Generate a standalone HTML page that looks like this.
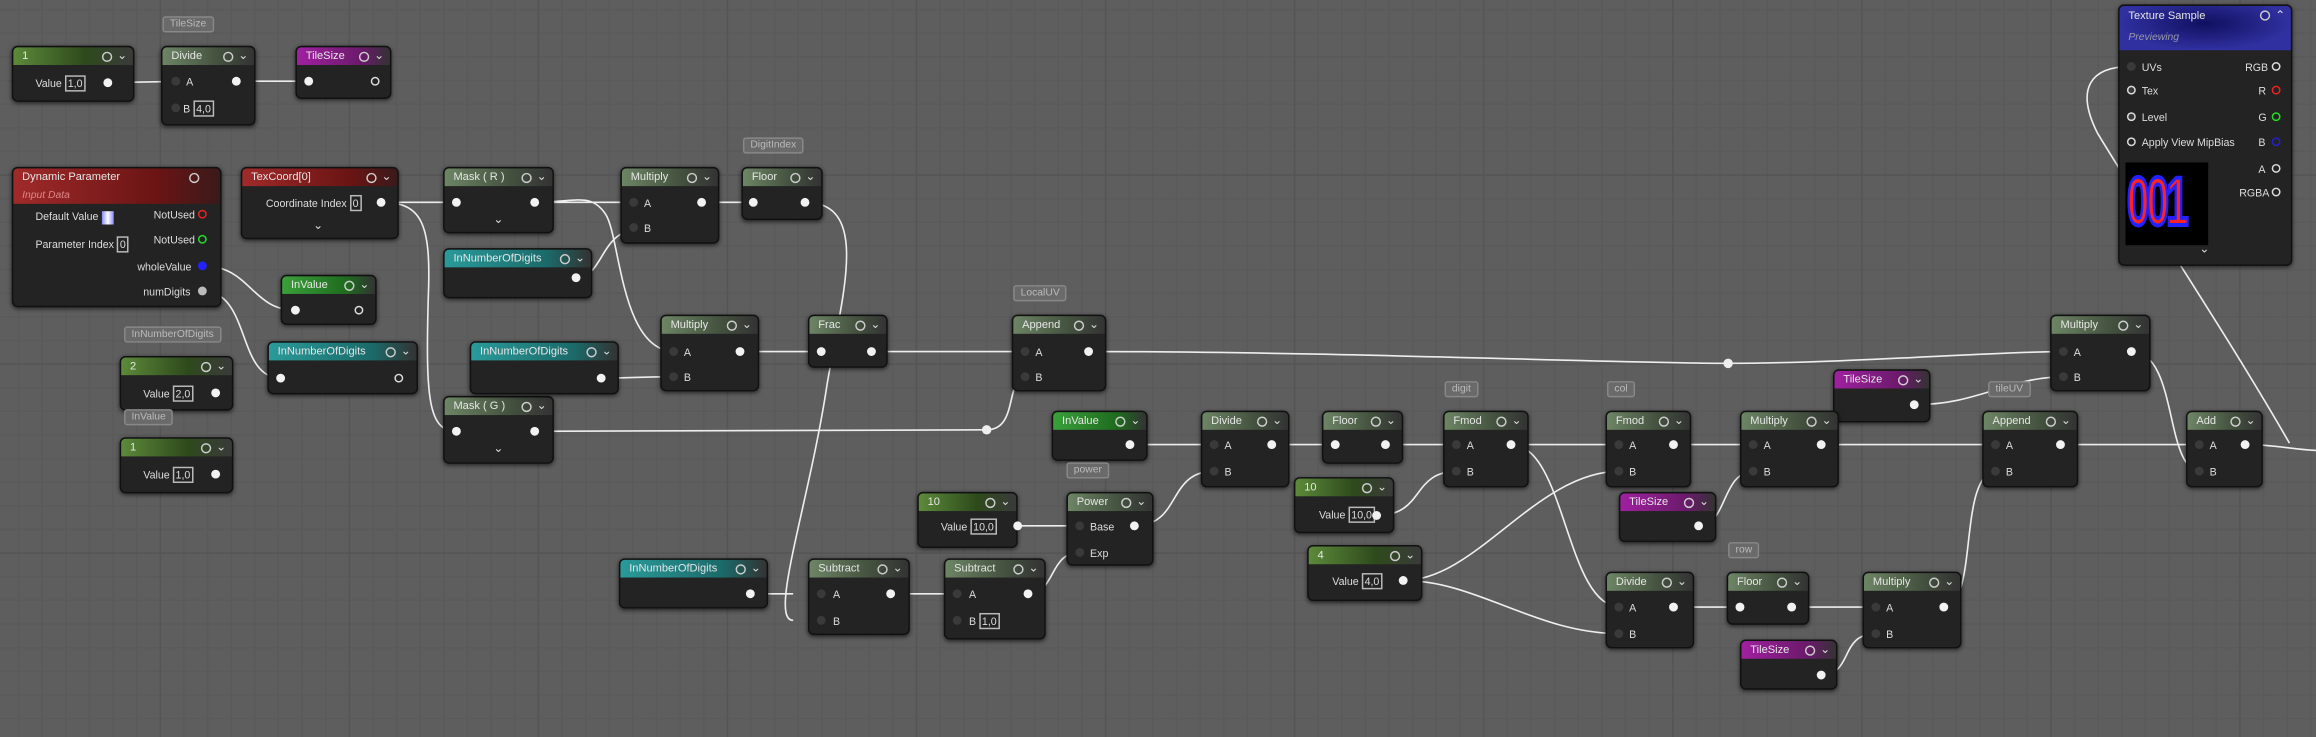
<!DOCTYPE html>
<html><head><meta charset="utf-8"><style>
html,body{margin:0;padding:0;background:#5e5e5e;overflow:hidden}
#wrap{position:absolute;left:0;top:0;width:2316px;height:737px;overflow:hidden;background:#5e5e5e}
#c{position:absolute;left:0;top:0;width:1568px;height:499px;transform:scale(1.47704);transform-origin:0 0;
background-image:linear-gradient(#555 1px,transparent 1px),linear-gradient(90deg,#555 1px,transparent 1px),linear-gradient(#5a5a5a 1px,transparent 1px),linear-gradient(90deg,#5a5a5a 1px,transparent 1px);
background-size:128px 128px,128px 128px,16px 16px,16px 16px;background-position:-20px -10px;font-family:"Liberation Sans",sans-serif}
.n{position:absolute;background:#232323;border:1px solid #111;border-radius:4px;box-shadow:0 1px 3px rgba(0,0,0,.6);overflow:hidden}
.h{height:12px;line-height:12px;font-size:7.5px;color:#e6e6e6;padding-left:6px;position:relative;white-space:nowrap}
.h:after{content:"";position:absolute;right:14px;top:3px;width:5px;height:5px;border:1px solid #ccc;border-radius:50%}
.h b{position:absolute;right:4px;top:0;font-weight:normal;font-size:8px;color:#ddd}
.g{background:linear-gradient(90deg,#5c8a3a,#2e4a1c 60%,#3a3a3a)}
.m{background:linear-gradient(90deg,#6d8565,#44523f 60%,#333)}
.pu{background:linear-gradient(90deg,#a020a0,#6a1a6a 70%,#333)}
.te{background:linear-gradient(90deg,#2a9a9a,#1b6a6a 70%,#333)}
.r{background:linear-gradient(90deg,#a02a2a,#6a1414 70%,#3a1a1a)}
.gb{background:linear-gradient(90deg,#3aa03a,#1e6a1e 70%,#333)}
.t{position:absolute;font-size:7.2px;color:#ddd;white-space:nowrap;line-height:9px}
.t span{border:1px solid #bbb;padding:0 1px;margin-left:2px}
.p{position:absolute;width:6px;height:6px;border-radius:50%;background:#f2f2f2;margin:-3px 0 0 -3px}
.o{background:transparent;border:1.3px solid #ddd;width:4px;height:4px}
.d{background:#3a3a3a}
.cm{position:absolute;z-index:5;font-size:7px;color:#bbb;border:1px solid #888;background:#6a6a6a;padding:1px 4px;border-radius:2px;white-space:nowrap}
.v{position:absolute;font-size:8px;color:#ddd}
svg{position:absolute;left:0;top:0}
</style></head><body><div id="wrap"><div id="c">
<svg width="1568" height="499" fill="none" stroke="#eee" stroke-width="1.1">
<path d="M73,56 L128,55"/><path d="M160,55 L209,55"/>
<path d="M258,137 L309,137"/>
<path d="M258,137 C285,137 292,150 290,200 C288,270 290,292 309,292"/>
<path d="M362,137 C390,137 400,130 410,145 C420,160 420,238 457,238"/>
<path d="M362,137 L437,137"/>
<path d="M390,188 C410,188 405,154 437,154"/>
<path d="M475,137 L510,137"/>
<path d="M545,137 C590,137 570,200 560,260 C548,340 520,420 537,420"/>
<path d="M137,180 C170,180 170,210 200,210"/>
<path d="M137,197 C170,197 160,256 190,256"/>
<path d="M407,256 C430,256 430,255 457,255"/>
<path d="M501,238 L556,238"/>
<path d="M590,238 L695,238"/>
<path d="M737,238 C900,238 1100,246 1170,246 C1250,246 1350,238 1398,238"/>
<path d="M362,292 L668,291 C690,291 680,255 695,255"/>
<path d="M765,301 L822,301"/>
<path d="M768,356 C800,356 790,319 822,319"/>
<path d="M861,301 L904,301"/><path d="M938,301 L987,301"/>
<path d="M932,349 C965,349 955,319 987,319"/>
<path d="M1023,301 L1097,301"/>
<path d="M1023,301 C1060,301 1060,411 1097,411"/>
<path d="M950,393 C1000,393 1040,319 1097,319"/>
<path d="M950,393 C1000,393 1040,429 1097,429"/>
<path d="M1133,301 L1188,301"/>
<path d="M1150,356 C1170,356 1165,319 1188,319"/>
<path d="M1233,301 L1352,301"/>
<path d="M1133,411 L1178,411"/><path d="M1213,411 L1270,411"/>
<path d="M1233,457 C1255,457 1245,429 1270,429"/>
<path d="M1316,411 C1340,411 1325,319 1352,319"/>
<path d="M1395,301 L1490,301"/>
<path d="M1296,274 C1340,274 1360,255 1398,255"/>
<path d="M1443,238 C1475,238 1465,319 1490,319"/>
<path d="M1520,301 C1540,301 1550,304 1568,305"/>
<path d="M1550,300 C1510,230 1450,140 1420,90 C1405,60 1415,45 1443,45"/>
<path d="M508,402 L537,402"/>
<path d="M603,402 L648,402"/>
<path d="M696,402 C715,402 710,374 731,374"/>
<path d="M689,356 L731,356"/>
</svg>
<svg width="1568" height="499"><circle cx="1170" cy="246" r="3.2" fill="#eee"/><circle cx="668" cy="291" r="3.2" fill="#eee"/></svg>

<div class="cm" style="left:110px;top:11px">TileSize</div>
<div class="cm" style="left:503px;top:93px">DigitIndex</div>
<div class="cm" style="left:84px;top:221px">InNumberOfDigits</div>
<div class="cm" style="left:84px;top:277px">InValue</div>
<div class="cm" style="left:686px;top:193px">LocalUV</div>
<div class="cm" style="left:1346px;top:258px">tileUV</div>
<div class="cm" style="left:722px;top:313px">power</div>
<div class="cm" style="left:978px;top:258px">digit</div>
<div class="cm" style="left:1088px;top:258px">col</div>
<div class="cm" style="left:1170px;top:367px">row</div>

<div class="n" style="left:8px;top:31px;width:81px;height:36px"><div class="h g">1<b>⌄</b></div></div>
<div class="t" style="left:24px;top:52px">Value<span>1,0</span></div>
<div class="n" style="left:109px;top:31px;width:62px;height:52px"><div class="h m">Divide<b>⌄</b></div></div>
<div class="t" style="left:126px;top:51px">A</div><div class="t" style="left:124px;top:69px">B<span>4,0</span></div>
<div class="n" style="left:200px;top:31px;width:63px;height:34px"><div class="h pu">TileSize<b>⌄</b></div></div>

<div class="n" style="left:8px;top:113px;width:140px;height:93px"><div class="h r" style="height:24px;line-height:12px">Dynamic Parameter<br><i style="color:#d88;font-size:7px">Input Data</i></div></div>
<div class="t" style="left:24px;top:142px">Default Value <i style="display:inline-block;width:8px;height:9px;background:linear-gradient(90deg,#88f,#fff,#88f);vertical-align:middle"></i></div>
<div class="t" style="left:104px;top:141px">NotUsed</div>
<div class="t" style="left:24px;top:161px">Parameter Index<span>0</span></div>
<div class="t" style="left:104px;top:158px">NotUsed</div>
<div class="t" style="left:93px;top:176px">wholeValue</div>
<div class="t" style="left:97px;top:193px">numDigits</div>

<div class="n" style="left:163px;top:113px;width:105px;height:47px"><div class="h r">TexCoord[0]<b>⌄</b></div></div>
<div class="t" style="left:180px;top:133px">Coordinate Index<span>0</span></div><div class="v" style="left:212px;top:148px">⌄</div>
<div class="n" style="left:300px;top:113px;width:73px;height:43px"><div class="h m">Mask ( R )<b>⌄</b></div></div><div class="v" style="left:334px;top:144px">⌄</div>
<div class="n" style="left:300px;top:168px;width:99px;height:32px"><div class="h te">InNumberOfDigits<b>⌄</b></div></div>
<div class="n" style="left:420px;top:113px;width:65px;height:50px"><div class="h m">Multiply<b>⌄</b></div></div>
<div class="t" style="left:436px;top:133px">A</div><div class="t" style="left:436px;top:150px">B</div>
<div class="n" style="left:502px;top:113px;width:53px;height:34px"><div class="h m">Floor<b>⌄</b></div></div>
<div class="n" style="left:190px;top:186px;width:63px;height:32px"><div class="h gb">InValue<b>⌄</b></div></div>
<div class="n" style="left:181px;top:231px;width:100px;height:34px"><div class="h te">InNumberOfDigits<b>⌄</b></div></div>
<div class="n" style="left:81px;top:241px;width:75px;height:35px"><div class="h g">2<b>⌄</b></div></div>
<div class="t" style="left:97px;top:262px">Value<span>2,0</span></div>
<div class="n" style="left:81px;top:296px;width:75px;height:36px"><div class="h g">1<b>⌄</b></div></div>
<div class="t" style="left:97px;top:317px">Value<span>1,0</span></div>
<div class="n" style="left:300px;top:268px;width:73px;height:44px"><div class="h m">Mask ( G )<b>⌄</b></div></div><div class="v" style="left:334px;top:299px">⌄</div>
<div class="n" style="left:318px;top:231px;width:99px;height:34px"><div class="h te">InNumberOfDigits<b>⌄</b></div></div>
<div class="n" style="left:447px;top:213px;width:65px;height:50px"><div class="h m">Multiply<b>⌄</b></div></div>
<div class="t" style="left:463px;top:234px">A</div><div class="t" style="left:463px;top:251px">B</div>
<div class="n" style="left:547px;top:213px;width:52px;height:34px"><div class="h m">Frac<b>⌄</b></div></div>
<div class="n" style="left:685px;top:213px;width:62px;height:50px"><div class="h m">Append<b>⌄</b></div></div>
<div class="t" style="left:701px;top:234px">A</div><div class="t" style="left:701px;top:251px">B</div>
<div class="n" style="left:1388px;top:213px;width:66px;height:50px"><div class="h m">Multiply<b>⌄</b></div></div>
<div class="t" style="left:1404px;top:234px">A</div><div class="t" style="left:1404px;top:251px">B</div>
<div class="n" style="left:1241px;top:250px;width:64px;height:34px"><div class="h pu">TileSize<b>⌄</b></div></div>
<div class="n" style="left:712px;top:278px;width:63px;height:32px"><div class="h gb">InValue<b>⌄</b></div></div>
<div class="n" style="left:813px;top:278px;width:58px;height:50px"><div class="h m">Divide<b>⌄</b></div></div>
<div class="t" style="left:829px;top:297px">A</div><div class="t" style="left:829px;top:315px">B</div>
<div class="n" style="left:895px;top:278px;width:53px;height:34px"><div class="h m">Floor<b>⌄</b></div></div>
<div class="n" style="left:977px;top:278px;width:56px;height:50px"><div class="h m">Fmod<b>⌄</b></div></div>
<div class="t" style="left:993px;top:297px">A</div><div class="t" style="left:993px;top:315px">B</div>
<div class="n" style="left:1087px;top:278px;width:56px;height:50px"><div class="h m">Fmod<b>⌄</b></div></div>
<div class="t" style="left:1103px;top:297px">A</div><div class="t" style="left:1103px;top:315px">B</div>
<div class="n" style="left:1178px;top:278px;width:65px;height:50px"><div class="h m">Multiply<b>⌄</b></div></div>
<div class="t" style="left:1194px;top:297px">A</div><div class="t" style="left:1194px;top:315px">B</div>
<div class="n" style="left:1342px;top:278px;width:63px;height:50px"><div class="h m">Append<b>⌄</b></div></div>
<div class="t" style="left:1358px;top:297px">A</div><div class="t" style="left:1358px;top:315px">B</div>
<div class="n" style="left:1480px;top:278px;width:50px;height:50px"><div class="h m">Add<b>⌄</b></div></div>
<div class="t" style="left:1496px;top:297px">A</div><div class="t" style="left:1496px;top:315px">B</div>
<div class="n" style="left:876px;top:323px;width:66px;height:36px"><div class="h g">10<b>⌄</b></div></div>
<div class="t" style="left:893px;top:344px">Value<span>10,0</span></div>
<div class="n" style="left:1096px;top:333px;width:64px;height:32px"><div class="h pu">TileSize<b>⌄</b></div></div>
<div class="n" style="left:885px;top:369px;width:76px;height:36px"><div class="h g">4<b>⌄</b></div></div>
<div class="t" style="left:902px;top:389px">Value<span>4,0</span></div>
<div class="n" style="left:621px;top:333px;width:66px;height:36px"><div class="h g">10<b>⌄</b></div></div>
<div class="t" style="left:637px;top:352px">Value<span>10,0</span></div>
<div class="n" style="left:722px;top:333px;width:57px;height:48px"><div class="h m">Power<b>⌄</b></div></div>
<div class="t" style="left:738px;top:352px">Base</div><div class="t" style="left:738px;top:370px">Exp</div>
<div class="n" style="left:419px;top:378px;width:99px;height:32px"><div class="h te">InNumberOfDigits<b>⌄</b></div></div>
<div class="n" style="left:547px;top:378px;width:67px;height:50px"><div class="h m">Subtract<b>⌄</b></div></div>
<div class="t" style="left:564px;top:398px">A</div><div class="t" style="left:564px;top:416px">B</div>
<div class="n" style="left:639px;top:378px;width:67px;height:53px"><div class="h m">Subtract<b>⌄</b></div></div>
<div class="t" style="left:656px;top:398px">A</div><div class="t" style="left:656px;top:416px">B<span>1,0</span></div>
<div class="n" style="left:1087px;top:387px;width:58px;height:50px"><div class="h m">Divide<b>⌄</b></div></div>
<div class="t" style="left:1103px;top:407px">A</div><div class="t" style="left:1103px;top:425px">B</div>
<div class="n" style="left:1169px;top:387px;width:54px;height:34px"><div class="h m">Floor<b>⌄</b></div></div>
<div class="n" style="left:1261px;top:387px;width:65px;height:50px"><div class="h m">Multiply<b>⌄</b></div></div>
<div class="t" style="left:1277px;top:407px">A</div><div class="t" style="left:1277px;top:425px">B</div>
<div class="n" style="left:1178px;top:433px;width:64px;height:32px"><div class="h pu">TileSize<b>⌄</b></div></div>

<div class="n" style="left:1434px;top:3px;width:116px;height:175px"><div class="h" style="height:30px;background:radial-gradient(ellipse at 50% 40%,#101060,#3030a0 70%);line-height:14px">Texture Sample<b>⌃</b><br><i style="color:#99a;font-size:7px">Previewing</i></div>
<div style="position:absolute;left:4px;top:106px;width:56px;height:56px;background:#000;overflow:hidden"><div style="position:absolute;left:1px;top:-4px;font:bold 44px/60px 'Liberation Sans',sans-serif;color:#f22;-webkit-text-stroke:2.5px #22f;letter-spacing:-3px;transform:scale(0.62,1.05);transform-origin:0 0;white-space:nowrap">001</div></div>
<div class="v" style="left:54px;top:160px">⌄</div></div>
<div class="t" style="left:1450px;top:41px">UVs</div><div class="t" style="left:1520px;top:41px">RGB</div>
<div class="t" style="left:1450px;top:57px">Tex</div><div class="t" style="left:1529px;top:57px">R</div>
<div class="t" style="left:1450px;top:75px">Level</div><div class="t" style="left:1529px;top:75px">G</div>
<div class="t" style="left:1450px;top:92px">Apply View MipBias</div><div class="t" style="left:1529px;top:92px">B</div>
<div class="t" style="left:1529px;top:110px">A</div><div class="t" style="left:1516px;top:126px">RGBA</div>

<i class="p" style="left:73px;top:56px"></i><i class="p d" style="left:119px;top:55px"></i><i class="p d" style="left:119px;top:73px"></i><i class="p" style="left:160px;top:55px"></i>
<i class="p" style="left:209px;top:55px"></i><i class="p o" style="left:254px;top:55px"></i>
<i class="p o" style="left:137px;top:145px;border-color:#e22"></i><i class="p o" style="left:137px;top:162px;border-color:#2d2"></i>
<i class="p" style="left:137px;top:180px;background:#22f"></i><i class="p" style="left:137px;top:197px;background:#bbb"></i>
<i class="p" style="left:258px;top:137px"></i><i class="p" style="left:309px;top:137px"></i><i class="p" style="left:362px;top:137px"></i>
<i class="p" style="left:390px;top:188px"></i><i class="p d" style="left:429px;top:137px"></i><i class="p d" style="left:429px;top:154px"></i><i class="p" style="left:475px;top:137px"></i>
<i class="p" style="left:510px;top:137px"></i><i class="p" style="left:545px;top:137px"></i>
<i class="p" style="left:200px;top:210px"></i><i class="p o" style="left:243px;top:210px"></i>
<i class="p" style="left:190px;top:256px"></i><i class="p o" style="left:270px;top:256px"></i>
<i class="p" style="left:146px;top:266px"></i><i class="p" style="left:146px;top:321px"></i>
<i class="p" style="left:309px;top:292px"></i><i class="p" style="left:362px;top:292px"></i><i class="p" style="left:407px;top:256px"></i>
<i class="p d" style="left:456px;top:238px"></i><i class="p d" style="left:456px;top:255px"></i><i class="p" style="left:501px;top:238px"></i>
<i class="p" style="left:556px;top:238px"></i><i class="p" style="left:590px;top:238px"></i>
<i class="p d" style="left:694px;top:238px"></i><i class="p d" style="left:694px;top:255px"></i><i class="p" style="left:737px;top:238px"></i>
<i class="p d" style="left:1397px;top:238px"></i><i class="p d" style="left:1397px;top:255px"></i><i class="p" style="left:1443px;top:238px"></i>
<i class="p" style="left:1296px;top:274px"></i><i class="p" style="left:765px;top:301px"></i>
<i class="p d" style="left:822px;top:301px"></i><i class="p d" style="left:822px;top:319px"></i><i class="p" style="left:861px;top:301px"></i>
<i class="p" style="left:904px;top:301px"></i><i class="p" style="left:938px;top:301px"></i>
<i class="p d" style="left:986px;top:301px"></i><i class="p d" style="left:986px;top:319px"></i><i class="p" style="left:1023px;top:301px"></i>
<i class="p d" style="left:1096px;top:301px"></i><i class="p d" style="left:1096px;top:319px"></i><i class="p" style="left:1133px;top:301px"></i>
<i class="p d" style="left:1187px;top:301px"></i><i class="p d" style="left:1187px;top:319px"></i><i class="p" style="left:1233px;top:301px"></i>
<i class="p d" style="left:1351px;top:301px"></i><i class="p d" style="left:1351px;top:319px"></i><i class="p" style="left:1395px;top:301px"></i>
<i class="p d" style="left:1489px;top:301px"></i><i class="p d" style="left:1489px;top:319px"></i><i class="p" style="left:1520px;top:301px"></i>
<i class="p" style="left:932px;top:349px"></i><i class="p" style="left:1150px;top:356px"></i><i class="p" style="left:950px;top:393px"></i><i class="p" style="left:689px;top:356px"></i>
<i class="p d" style="left:731px;top:356px"></i><i class="p d" style="left:731px;top:374px"></i><i class="p" style="left:768px;top:356px"></i>
<i class="p" style="left:508px;top:402px"></i><i class="p d" style="left:556px;top:402px"></i><i class="p d" style="left:556px;top:420px"></i><i class="p" style="left:603px;top:402px"></i>
<i class="p d" style="left:648px;top:402px"></i><i class="p d" style="left:648px;top:420px"></i><i class="p" style="left:696px;top:402px"></i>
<i class="p d" style="left:1096px;top:411px"></i><i class="p d" style="left:1096px;top:429px"></i><i class="p" style="left:1133px;top:411px"></i>
<i class="p" style="left:1178px;top:411px"></i><i class="p" style="left:1213px;top:411px"></i>
<i class="p d" style="left:1270px;top:411px"></i><i class="p d" style="left:1270px;top:429px"></i><i class="p" style="left:1316px;top:411px"></i>
<i class="p" style="left:1233px;top:457px"></i>
<i class="p d" style="left:1443px;top:45px"></i><i class="p o" style="left:1541px;top:45px"></i>
<i class="p o d" style="left:1443px;top:61px"></i><i class="p o" style="left:1541px;top:61px;border-color:#e22"></i>
<i class="p o d" style="left:1443px;top:79px"></i><i class="p o" style="left:1541px;top:79px;border-color:#2d2"></i>
<i class="p o" style="left:1443px;top:96px"></i><i class="p o" style="left:1541px;top:96px;border-color:#22c"></i>
<i class="p o" style="left:1541px;top:114px"></i><i class="p o" style="left:1541px;top:130px"></i>
</div></div></body></html>
